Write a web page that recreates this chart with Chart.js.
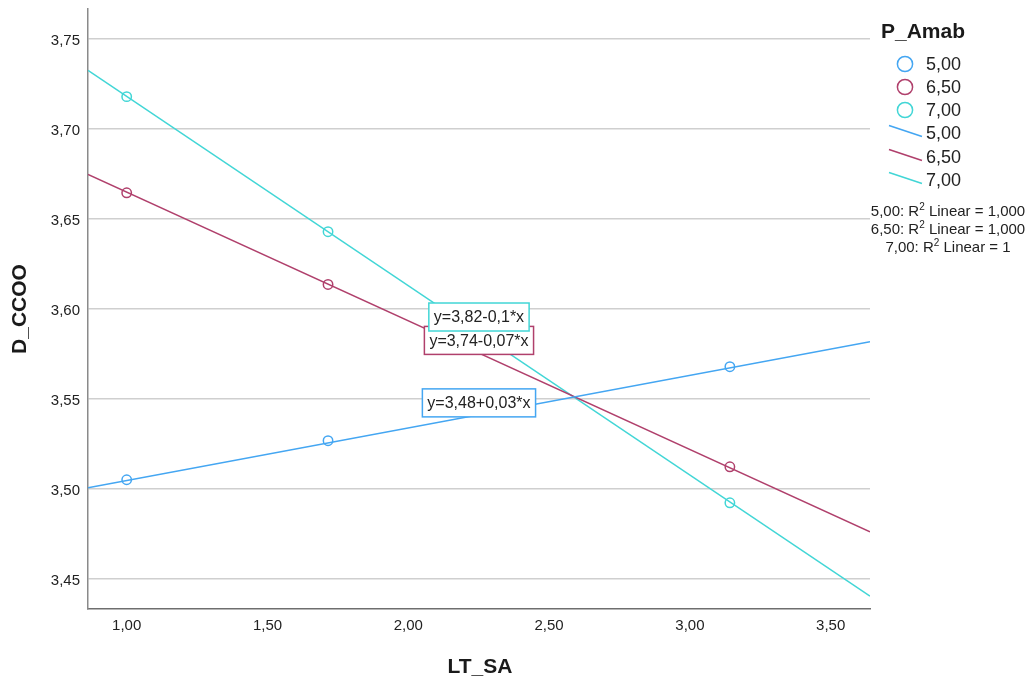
<!DOCTYPE html>
<html>
<head>
<meta charset="utf-8">
<script src="https://cdn.jsdelivr.net/npm/chart.js@4"></script>
<style>
  html, body { margin: 0; padding: 0; background: #ffffff; }
  #wrap { width: 1029px; height: 681px; position: relative; }
</style>
</head>
<body>
<div id="wrap"><canvas id="c" width="1029" height="681"></canvas></div>
<script>
// ---- data ----
const groupLabels = ['5,00', '6,50', '7,00'];           // P_Amab
const ltSa = [1.00, 1.715, 3.142];                       // x values of observed points
const dccoo500 = [3.505, 3.5267, 3.5678];
const dccoo650 = [3.6644, 3.6135, 3.5122];
const dccoo700 = [3.7178, 3.6428, 3.4922];
const fitX = [0.8626, 3.6396];                           // fit line end x (axis range)
const fit500 = [3.5005, 3.5817];
const fit650 = [3.6746, 3.4761];
const fit700 = [3.7324, 3.4404];
const equations = ['y=3,48+0,03*x', 'y=3,74-0,07*x', 'y=3,82-0,1*x'];
const r2Values = ['1,000', '1,000', '1'];
const xTicks = [1.00, 1.50, 2.00, 2.50, 3.00, 3.50];
const yTicks = [3.45, 3.50, 3.55, 3.60, 3.65, 3.70, 3.75];
const xRange = [0.8626, 3.6396];
const yRange = [3.4332, 3.7665];
const eqAnchorX = [2.251, 2.251, 2.251];
const eqAnchorY = [3.5477, 3.5824, 3.5954];

// ---- styles ----
const colors = ['#44a6f2', '#b0406c', '#42d6d6'];
const FONT = '"Liberation Sans", Arial, sans-serif';
const comma = v => v.toFixed(2).replace('.', ',');

const pts = (xs, ys) => xs.map((x, i) => ({ x: x, y: ys[i] }));
const series = [dccoo500, dccoo650, dccoo700];
const fits = [fit500, fit650, fit700];

const datasets = [];
fits.forEach((f, i) => {
  datasets.push({
    label: groupLabels[i] + ' fit',
    data: pts(fitX, f),
    showLine: true,
    borderColor: colors[i],
    borderWidth: 1.5,
    pointRadius: 0,
    pointHoverRadius: 0,
    fill: false,
    order: 2
  });
});
series.forEach((s, i) => {
  datasets.push({
    label: groupLabels[i],
    data: pts(ltSa, s),
    showLine: false,
    borderColor: colors[i],
    backgroundColor: 'rgba(0,0,0,0)',
    pointBorderColor: colors[i],
    pointBackgroundColor: 'rgba(0,0,0,0)',
    pointRadius: 4.7,
    pointBorderWidth: 1.5,
    pointStyle: 'circle',
    order: 1
  });
});

const overlay = {
  id: 'overlay',
  afterDatasetsDraw(chart) {
    const ctx = chart.ctx;
    const xs = chart.scales.x, ys = chart.scales.y;
    ctx.save();
    ctx.font = '16px ' + FONT;
    ctx.textAlign = 'center';
    ctx.textBaseline = 'middle';
    for (let i = 0; i < equations.length; i++) {
      const cx = xs.getPixelForValue(eqAnchorX[i]);
      const cy = ys.getPixelForValue(eqAnchorY[i]);
      const w = ctx.measureText(equations[i]).width + 10;
      const h = 28;
      ctx.fillStyle = '#ffffff';
      ctx.fillRect(cx - w / 2, cy - h / 2, w, h);
      ctx.strokeStyle = colors[i];
      ctx.lineWidth = 1.5;
      ctx.strokeRect(cx - w / 2, cy - h / 2, w, h);
      ctx.fillStyle = '#222222';
      ctx.fillText(equations[i], cx, cy + 1);
    }
    ctx.restore();
  },
  afterDraw(chart) {
    const ctx = chart.ctx;
    const ca = chart.chartArea;
    ctx.save();
    ctx.fillStyle = '#1a1a1a';
    // axis titles
    ctx.font = 'bold 21px ' + FONT;
    ctx.textAlign = 'center';
    ctx.textBaseline = 'middle';
    ctx.fillText('LT_SA', (ca.left + ca.right) / 2 + 1, 667);
    ctx.save();
    ctx.translate(20, (ca.top + ca.bottom) / 2);
    ctx.rotate(-Math.PI / 2);
    ctx.fillText('D_CCOO', 0, 0);
    ctx.restore();

    // legend
    ctx.textAlign = 'left';
    ctx.font = 'bold 21px ' + FONT;
    ctx.fillText('P_Amab', 881, 32);
    ctx.font = '18px ' + FONT;
    const circY = [64, 87, 110];
    for (let i = 0; i < 3; i++) {
      ctx.beginPath();
      ctx.arc(905, circY[i], 7.6, 0, Math.PI * 2);
      ctx.strokeStyle = colors[i];
      ctx.lineWidth = 1.5;
      ctx.stroke();
      ctx.fillStyle = '#222222';
      ctx.fillText(groupLabels[i], 926, circY[i] + 1);
    }
    const lineY = [131, 155, 178];
    for (let i = 0; i < 3; i++) {
      ctx.beginPath();
      ctx.moveTo(889, lineY[i] - 5.5);
      ctx.lineTo(922, lineY[i] + 5.5);
      ctx.strokeStyle = colors[i];
      ctx.lineWidth = 1.5;
      ctx.stroke();
      ctx.fillStyle = '#222222';
      ctx.fillText(groupLabels[i], 926, lineY[i] + 3);
    }
    // R² lines
    const r2Y = [212, 230, 248];
    for (let i = 0; i < 3; i++) {
      const a = groupLabels[i] + ': R';
      const b = ' Linear = ' + r2Values[i];
      ctx.font = '15px ' + FONT;
      const wa = ctx.measureText(a).width;
      const wb = ctx.measureText(b).width;
      ctx.font = '10px ' + FONT;
      const ws = ctx.measureText('2').width;
      const total = wa + ws + wb;
      let x0 = 948 - total / 2;
      ctx.fillStyle = '#222222';
      ctx.font = '15px ' + FONT;
      ctx.fillText(a, x0, r2Y[i]);
      ctx.font = '10px ' + FONT;
      ctx.fillText('2', x0 + wa, r2Y[i] - 5);
      ctx.font = '15px ' + FONT;
      ctx.fillText(b, x0 + wa + ws, r2Y[i]);
    }
    ctx.restore();
  }
};

new Chart(document.getElementById('c'), {
  type: 'scatter',
  data: { datasets: datasets },
  plugins: [overlay],
  options: {
    responsive: false,
    animation: false,
    events: [],
    layout: { padding: { left: 0, right: 159, top: 9, bottom: 0 } },
    plugins: { legend: { display: false }, tooltip: { enabled: false }, title: { display: false } },
    scales: {
      x: {
        type: 'linear',
        min: xRange[0],
        max: xRange[1],
        afterBuildTicks: s => { s.ticks = xTicks.map(v => ({ value: v })); },
        afterFit: s => { s.height = 72; s.paddingLeft = 0; s.paddingRight = 0; },
        grid: { display: false, drawTicks: false },
        border: { display: true, color: '#6e6e6e', width: 1.5 },
        ticks: {
          padding: 8,
          color: '#222222',
          font: { family: FONT, size: 15 },
          maxRotation: 0,
          autoSkip: false,
          callback: v => comma(v)
        }
      },
      y: {
        type: 'linear',
        min: yRange[0],
        max: yRange[1],
        afterBuildTicks: s => { s.ticks = yTicks.map(v => ({ value: v })); },
        afterFit: s => { s.width = 88; s.paddingTop = 0; s.paddingBottom = 0; },
        grid: { color: '#cfcfcf', lineWidth: 1.5, drawTicks: false },
        border: { display: true, color: '#8a8a8a', width: 1.5 },
        ticks: {
          padding: 8,
          labelOffset: 2,
          color: '#222222',
          font: { family: FONT, size: 15 },
          autoSkip: false,
          callback: v => comma(v)
        }
      }
    }
  }
});
</script>
</body>
</html>
